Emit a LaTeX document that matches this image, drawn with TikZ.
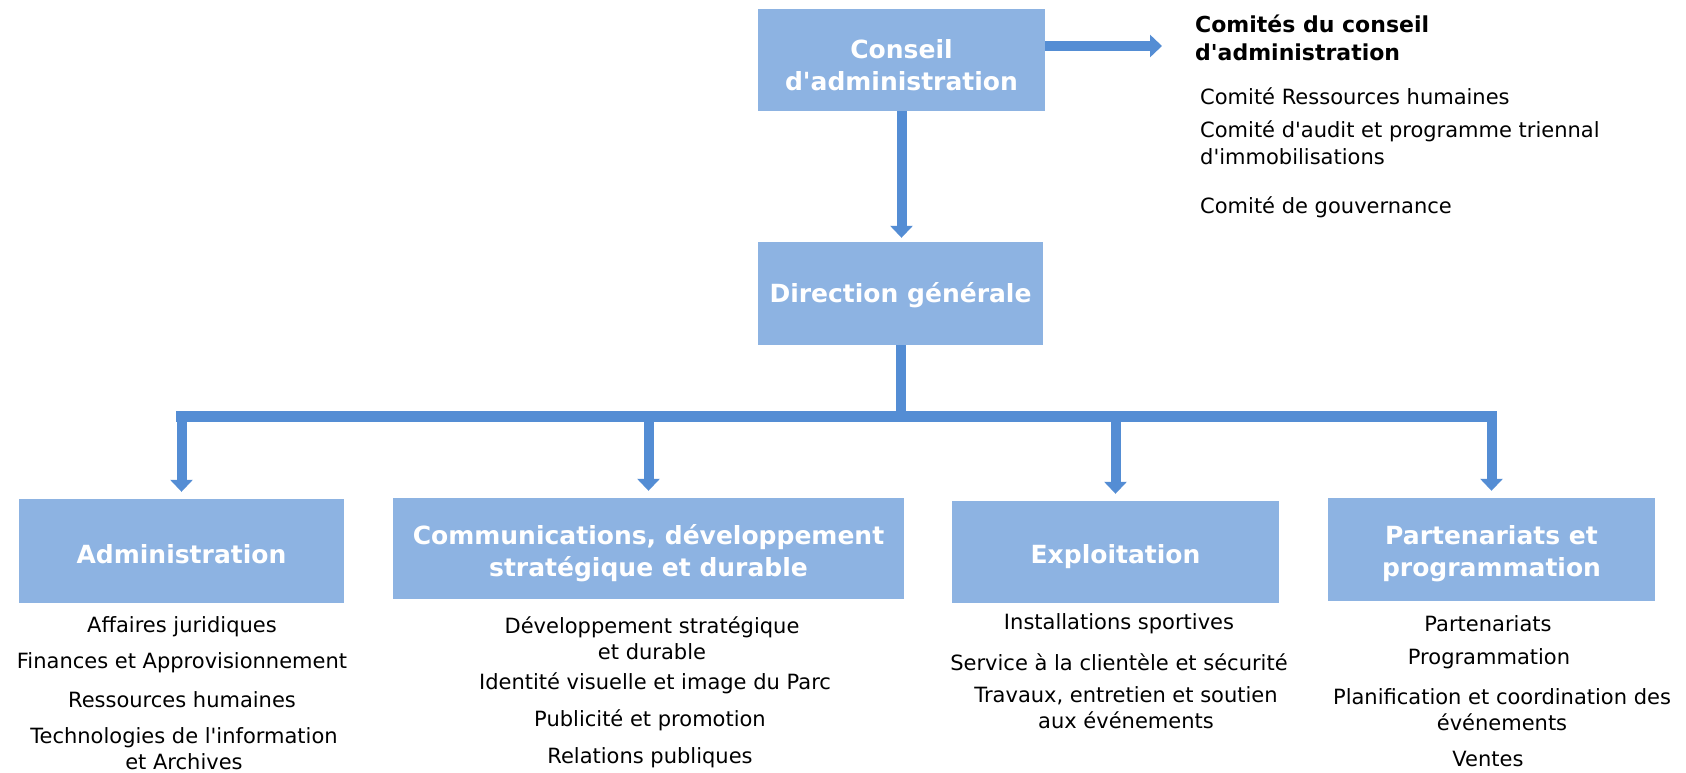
\documentclass[tikz,border=0pt]{standalone}
\usepackage{fontspec}
\setmainfont{DejaVu Sans}[Ligatures=TeXOff]
\usetikzlibrary{arrows.meta}
\definecolor{boxblue}{RGB}{141,179,226}
\definecolor{arrowblue}{RGB}{84,141,212}
\begin{document}
\begin{tikzpicture}[x=1pt,y=-1pt,
  orgbox/.style={fill=boxblue, draw=none, inner sep=0pt},
  boxtext/.style={text=white, align=center, inner sep=0pt, font=\fontsize{25}{32}\selectfont\bfseries},
  listtext/.style={align=center, inner sep=0pt, text=black, font=\fontsize{21}{26}\selectfont},
  cmtitle/.style={anchor=west, align=left, inner sep=0pt, text=black, font=\fontsize{22}{28}\selectfont\bfseries},
  cmitem/.style={anchor=west, align=left, inner sep=0pt, text=black, font=\fontsize{21}{27}\selectfont},
  conn/.style={draw=arrowblue, line width=10pt},
  arr/.style={conn, -{Triangle[width=22pt,length=12pt]}},
]
\fill[white] (0,0) rectangle (1686,772);
\useasboundingbox (0,0) rectangle (1686,772);

% boxes
\node[orgbox, minimum width=287pt, minimum height=102pt] (cons) at (901.5,60) {};
\node[orgbox, minimum width=285pt, minimum height=103pt] (dir) at (900.5,293.5) {};
\node[orgbox, minimum width=325pt, minimum height=104pt] (adm) at (181.5,551) {};
\node[orgbox, minimum width=511pt, minimum height=101pt] (com) at (648.5,548.5) {};
\node[orgbox, minimum width=327pt, minimum height=102pt] (exp) at (1115.5,552) {};
\node[orgbox, minimum width=327pt, minimum height=103pt] (par) at (1491.5,549.5) {};

% box titles
\node[boxtext] (consT) at ([yshift=-5pt]cons.center) {Conseil\\d'administration};
\node[boxtext] (dirT) at ([yshift=-2pt]dir.center) {Direction générale};
\node[boxtext] (admT) at ([yshift=-3pt]adm.center) {Administration};
\node[boxtext] (comT) at ([yshift=-5pt]com.center) {Communications, développement\\stratégique et durable};
\node[boxtext] (expT) at ([yshift=-5pt]exp.center) {Exploitation};
\node[boxtext] (parT) at ([yshift=-4pt]par.center) {Partenariats et\\programmation};

% committees
\node[cmtitle] (ctitle) at (1195,38) {Comités du conseil\\d'administration};
\node[cmitem] (c1) at (1200,96) {Comité Ressources humaines};
\node[cmitem] (c2) at (1200,143) {Comité d'audit et programme triennal\\d'immobilisations};
\node[cmitem] (c3) at (1200,207) {Comité de gouvernance};

% lists
\node[listtext] (a1) at (182,627) {Affaires juridiques};
\node[listtext] (a2) at (182,663) {Finances et Approvisionnement};
\node[listtext] (a3) at (182,700) {Ressources humaines};
\node[listtext] (a4) at (184,749) {Technologies de l'information\\et Archives};

\node[listtext] (b1) at (652,638) {Développement stratégique\\et durable};
\node[listtext] (b2) at (655,683) {Identité visuelle et image du Parc};
\node[listtext] (b3) at (650,720) {Publicité et promotion};
\node[listtext] (b4) at (650,758) {Relations publiques};

\node[listtext] (e1) at (1119,624) {Installations sportives};
\node[listtext] (e2) at (1119,662) {Service à la clientèle et sécurité};
\node[listtext] (e3) at (1126,708) {Travaux, entretien et soutien\\aux événements};

\node[listtext] (p1) at (1488,624) {Partenariats};
\node[listtext] (p2) at (1489,659) {Programmation};
\node[listtext] (p3) at (1502,709.5) {Planification et coordination des\\événements};
\node[listtext] (p4) at (1488,759) {Ventes};

% connectors
\coordinate (bus) at (897,416);
\coordinate (ctip) at (1162,46);
\draw[arr, shorten >=4pt] (cons.south) -- (cons.south |- dir.north);
\draw[arr] (cons.east |- ctip) -- (ctip);
\draw[conn] (dir.south) -- (dir.south |- bus);
\draw[conn, line width=11pt, line cap=rect] (adm.north |- bus) -- (par.north |- bus);
\draw[arr, shorten >=7pt] (adm.north |- bus) -- (adm.north);
\draw[arr, shorten >=7pt] (com.north |- bus) -- (com.north);
\draw[arr, shorten >=7pt] (exp.north |- bus) -- (exp.north);
\draw[arr, shorten >=7pt] (par.north |- bus) -- (par.north);
\end{tikzpicture}
\end{document}
